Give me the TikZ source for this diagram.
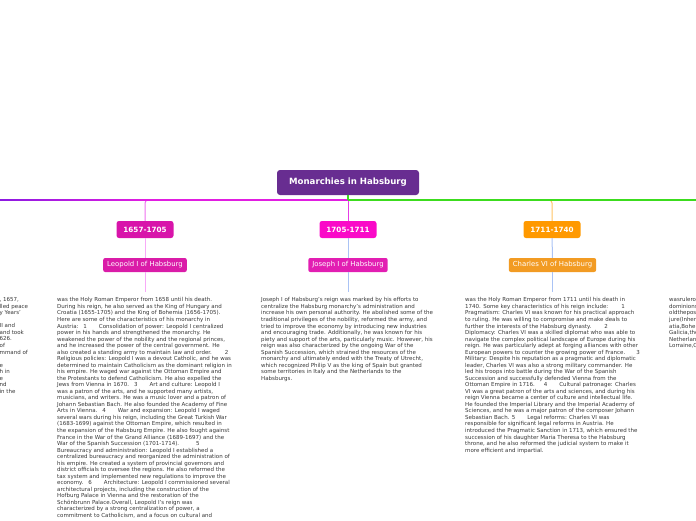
\documentclass[tikz,border=0pt]{standalone}
\usepackage{fontspec}
\setmainfont{DejaVu Sans}
\usepackage{xcolor}
\usepackage{tikz}
\definecolor{rootpurple}{RGB}{104,45,145}
\definecolor{yearA}{RGB}{216,20,170}
\definecolor{yearB}{RGB}{250,10,200}
\definecolor{yearC}{RGB}{255,153,0}
\definecolor{rulerA}{RGB}{218,28,168}
\definecolor{rulerB}{RGB}{226,30,178}
\definecolor{rulerC}{RGB}{242,155,35}
\definecolor{busviolet}{RGB}{140,25,225}
\definecolor{busmagenta}{RGB}{225,30,225}
\definecolor{busgreen}{RGB}{60,220,30}
\definecolor{stemA}{RGB}{238,110,238}
\definecolor{stemB}{RGB}{230,60,230}
\definecolor{stemC}{RGB}{255,195,100}
\definecolor{linkpink}{RGB}{248,170,248}
\definecolor{linkblue}{RGB}{170,195,245}
\definecolor{bodygrey}{RGB}{55,55,55}
\tikzset{
  topic/.style={rounded corners=3pt, fill=rootpurple, text=white, font=\bfseries\fontsize{8.6}{10}\selectfont, minimum width=142pt, minimum height=25pt, inner sep=0pt},
  period/.style={rounded corners=2.5pt, text=white, font=\bfseries\fontsize{7.2}{8}\selectfont, minimum width=57pt, minimum height=17pt, inner sep=0pt},
  ruler/.style={rounded corners=2pt, text=white, font=\fontsize{6.9}{8}\selectfont, minimum height=14pt, inner xsep=4pt, inner ysep=0pt},
  body/.style={align=left, anchor=north west, inner sep=0pt, text=bodygrey, font=\fontsize{5.5}{6.53}\selectfont},
  bus/.style={line width=1.3pt},
  stem/.style={line width=1pt, rounded corners=3pt},
  link/.style={line width=1pt}
}

\begin{document}
\begin{tikzpicture}[x=1pt,y=-1pt]
    \useasboundingbox (0,0) rectangle (696,520);
    \clip (0,0) rectangle (696,520);

    % topic and periods
    \node[topic] (root) at (348,182.5) {Monarchies in Habsburg};
    \node[period, fill=yearA] (y1) at (145,229.5) {1657-1705};
    \node[period, fill=yearB] (y2) at (348,229.5) {1705-1711};
    \node[period, fill=yearC] (y3) at (552,229.5) {1711-1740};
    \node[ruler, fill=rulerA] (r1) at (145,265) {Leopold I of Habsburg};
    \node[ruler, fill=rulerB] (r2) at (348,265) {Joseph I of Habsburg};
    \node[ruler, fill=rulerC] (r3) at (552.5,265) {Charles VI of Habsburg};

    % notes
    \node[body] (t0) at (-0.5,297.5) {, 1657,\\
lled peace\\
y Years'\\
\mbox{}\\
II and\\
and took\\
626.\\
of\\
mmand of\\
\mbox{}\\
e\\
h in\\
e\\
nd\\
in the};
    \node[body] (t1) at (57,297.5) {was the Holy Roman Emperor from 1658 until his death.\\
During his reign, he also served as the King of Hungary and\\
Croatia (1655-1705) and the King of Bohemia (1656-1705).\\
Here are some of the characteristics of his monarchy in\\
Austria:\hspace{5pt}1\hspace{12pt}Consolidation of power: Leopold I centralized\\
power in his hands and strengthened the monarchy. He\\
weakened the power of the nobility and the regional princes,\\
and he increased the power of the central government. He\\
also created a standing army to maintain law and order.\hspace{13pt}2\\
Religious policies: Leopold I was a devout Catholic, and he was\\
determined to maintain Catholicism as the dominant religion in\\
his empire. He waged war against the Ottoman Empire and\\
the Protestants to defend Catholicism. He also expelled the\\
Jews from Vienna in 1670.\hspace{5pt}3\hspace{12pt}Art and culture: Leopold I\\
was a patron of the arts, and he supported many artists,\\
musicians, and writers. He was a music lover and a patron of\\
Johann Sebastian Bach. He also founded the Academy of Fine\\
Arts in Vienna.\hspace{5pt}4\hspace{12pt}War and expansion: Leopold I waged\\
several wars during his reign, including the Great Turkish War\\
(1683-1699) against the Ottoman Empire, which resulted in\\
the expansion of the Habsburg Empire. He also fought against\\
France in the War of the Grand Alliance (1689-1697) and the\\
War of the Spanish Succession (1701-1714).\hspace{17pt}5\\
Bureaucracy and administration: Leopold I established a\\
centralized bureaucracy and reorganized the administration of\\
his empire. He created a system of provincial governors and\\
district officials to oversee the regions. He also reformed the\\
tax system and implemented new regulations to improve the\\
economy.\hspace{5pt}6\hspace{12pt}Architecture: Leopold I commissioned several\\
architectural projects, including the construction of the\\
Hofburg Palace in Vienna and the restoration of the\\
Schönbrunn Palace.Overall, Leopold I's reign was\\
characterized by a strong centralization of power, a\\
commitment to Catholicism, and a focus on cultural and};
    \node[body] (t2) at (261,297.5) {Joseph I of Habsburg's reign was marked by his efforts to\\
centralize the Habsburg monarchy's administration and\\
increase his own personal authority. He abolished some of the\\
traditional privileges of the nobility, reformed the army, and\\
tried to improve the economy by introducing new industries\\
and encouraging trade. Additionally, he was known for his\\
piety and support of the arts, particularly music. However, his\\
reign was also characterized by the ongoing War of the\\
Spanish Succession, which strained the resources of the\\
monarchy and ultimately ended with the Treaty of Utrecht,\\
which recognized Philip V as the king of Spain but granted\\
some territories in Italy and the Netherlands to the\\
Habsburgs.};
    \node[body] (t3) at (465,297.5) {was the Holy Roman Emperor from 1711 until his death in\\
1740. Some key characteristics of his reign include:\hspace{13pt}1\\
Pragmatism: Charles VI was known for his practical approach\\
to ruling. He was willing to compromise and make deals to\\
further the interests of the Habsburg dynasty.\hspace{13pt}2\\
Diplomacy: Charles VI was a skilled diplomat who was able to\\
navigate the complex political landscape of Europe during his\\
reign. He was particularly adept at forging alliances with other\\
European powers to counter the growing power of France.\hspace{11pt}3\\
Military: Despite his reputation as a pragmatic and diplomatic\\
leader, Charles VI was also a strong military commander. He\\
led his troops into battle during the War of the Spanish\\
Succession and successfully defended Vienna from the\\
Ottoman Empire in 1716.\hspace{9pt}4\hspace{12pt}Cultural patronage: Charles\\
VI was a great patron of the arts and sciences, and during his\\
reign Vienna became a center of culture and intellectual life.\\
He founded the Imperial Library and the Imperial Academy of\\
Sciences, and he was a major patron of the composer Johann\\
Sebastian Bach. 5\hspace{12pt}Legal reforms: Charles VI was\\
responsible for significant legal reforms in Austria. He\\
introduced the Pragmatic Sanction in 1713, which ensured the\\
succession of his daughter Maria Theresa to the Habsburg\\
throne, and he also reformed the judicial system to make it\\
more efficient and impartial.};
    \node[body] (t4) at (669,297.5) {wasrulerof\\dominions\\oldtheposi\\jure(Inher\\atia,Bohe\\Galicia,the\\Netherlan\\Lorraine,C};

    % connectors
    \coordinate (busL) at (0,200);
    \coordinate (busR) at (696,200);
    \coordinate (hub) at (348,200);
    \coordinate (bend1) at (145,200);
    \draw[stem, stemA] (hub) -| (y1.north);
    \draw[stem, stemB] (hub) -- (y2.north);
    \draw[stem, stemC] (hub) -| (y3.north);
    \shade[left color=busviolet, right color=busmagenta] ([yshift=0.65pt]busL) rectangle ([yshift=-0.65pt]bend1);
    \draw[bus, busmagenta] (bend1) -- (hub);
    \draw[bus, busgreen] (root.south) -- (hub);
    \draw[bus, busgreen] (hub) -- (busR);
    \draw[link, linkpink] (y1) -- (r1);
    \draw[link, linkblue] (y2) -- (r2);
    \draw[link, linkblue] (y3) -- (r3);
    \draw[link, linkpink, shorten >=5.5pt] (r1.south) -- (r1.south |- t1.north);
    \draw[link, linkblue, shorten >=5.5pt] (r2.south) -- (r2.south |- t2.north);
    \draw[link, linkblue, shorten >=5.5pt] (r3.south) -- (r3.south |- t3.north);
\end{tikzpicture}
\end{document}
